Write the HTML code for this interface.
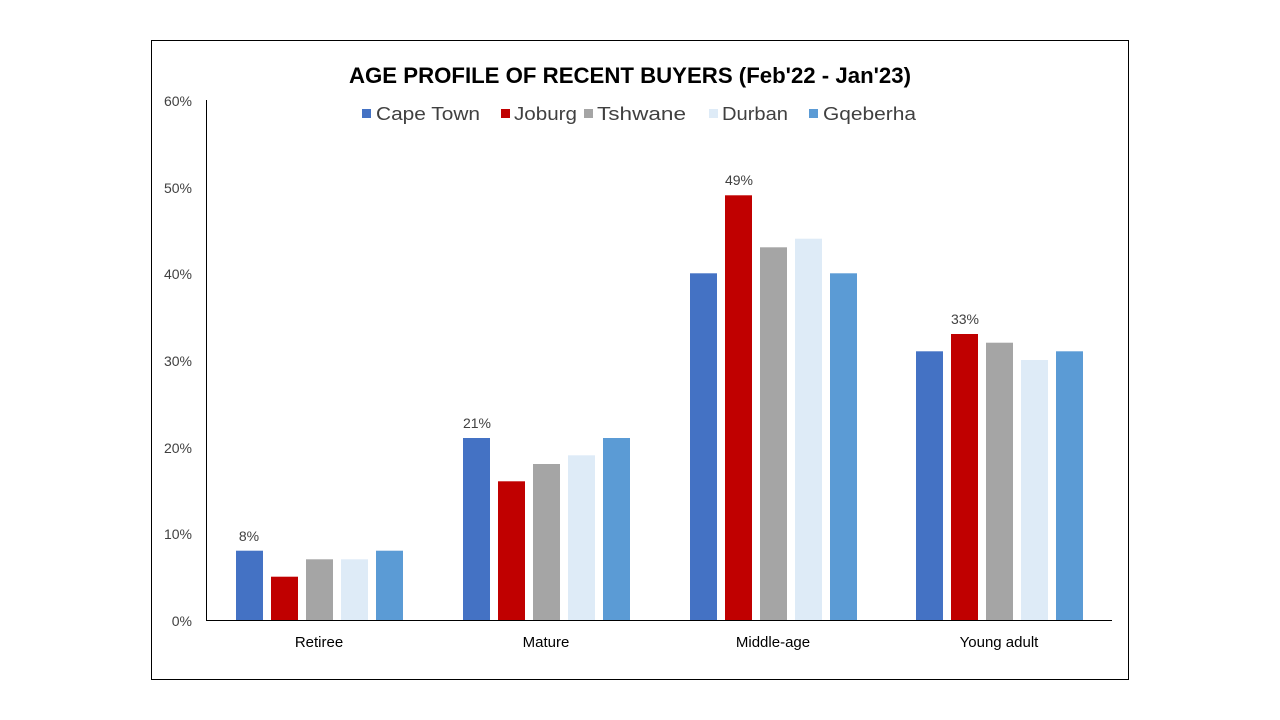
<!DOCTYPE html>
<html><head><meta charset="utf-8"><style>body{margin:0;background:#fff}svg{display:block}</style></head><body>
<svg width="1280" height="720" xmlns="http://www.w3.org/2000/svg" font-family="Liberation Sans, sans-serif">
<rect x="0" y="0" width="1280" height="720" fill="#fff"/>
<rect x="151.5" y="40.5" width="977" height="639" fill="none" stroke="#000" stroke-width="1"/>
<text x="349" y="83" font-size="22" font-weight="bold" textLength="562" lengthAdjust="spacingAndGlyphs" fill="#000">AGE PROFILE OF RECENT BUYERS (Feb'22 - Jan'23)</text>
<g font-size="18" fill="#404040">
<rect x="362" y="109" width="9" height="9" fill="#4472C4"/><text x="376" y="120" textLength="104" lengthAdjust="spacingAndGlyphs">Cape Town</text>
<rect x="501" y="109" width="9" height="9" fill="#C00000"/><text x="514" y="120" textLength="63" lengthAdjust="spacingAndGlyphs">Joburg</text>
<rect x="584" y="109" width="9" height="9" fill="#A5A5A5"/><text x="597" y="120" textLength="89" lengthAdjust="spacingAndGlyphs">Tshwane</text>
<rect x="709" y="109" width="9" height="9" fill="#DEEBF7"/><text x="722" y="120" textLength="66" lengthAdjust="spacingAndGlyphs">Durban</text>
<rect x="809" y="109" width="9" height="9" fill="#5B9BD5"/><text x="823" y="120" textLength="93" lengthAdjust="spacingAndGlyphs">Gqeberha</text>
</g>
<g font-size="14" fill="#404040" text-anchor="end">
<text x="192" y="626">0%</text><text x="192" y="539">10%</text><text x="192" y="453">20%</text><text x="192" y="366">30%</text><text x="192" y="279">40%</text><text x="192" y="193">50%</text><text x="192" y="106">60%</text>
</g>
<g>
<rect x="236" y="550.7" width="27" height="69.3" fill="#4472C4"/>
<rect x="271" y="576.7" width="27" height="43.3" fill="#C00000"/>
<rect x="306" y="559.3" width="27" height="60.7" fill="#A5A5A5"/>
<rect x="341" y="559.3" width="27" height="60.7" fill="#DEEBF7"/>
<rect x="376" y="550.7" width="27" height="69.3" fill="#5B9BD5"/>

<rect x="463" y="438" width="27" height="182" fill="#4472C4"/>
<rect x="498" y="481.3" width="27" height="138.7" fill="#C00000"/>
<rect x="533" y="464" width="27" height="156" fill="#A5A5A5"/>
<rect x="568" y="455.3" width="27" height="164.7" fill="#DEEBF7"/>
<rect x="603" y="438" width="27" height="182" fill="#5B9BD5"/>

<rect x="690" y="273.3" width="27" height="346.7" fill="#4472C4"/>
<rect x="725" y="195.3" width="27" height="424.7" fill="#C00000"/>
<rect x="760" y="247.3" width="27" height="372.7" fill="#A5A5A5"/>
<rect x="795" y="238.7" width="27" height="381.3" fill="#DEEBF7"/>
<rect x="830" y="273.3" width="27" height="346.7" fill="#5B9BD5"/>

<rect x="916" y="351.3" width="27" height="268.7" fill="#4472C4"/>
<rect x="951" y="334" width="27" height="286" fill="#C00000"/>
<rect x="986" y="342.7" width="27" height="277.3" fill="#A5A5A5"/>
<rect x="1021" y="360" width="27" height="260" fill="#DEEBF7"/>
<rect x="1056" y="351.3" width="27" height="268.7" fill="#5B9BD5"/>
</g>
<line x1="206.5" y1="100" x2="206.5" y2="620" stroke="#000"/>
<line x1="206" y1="620.5" x2="1112" y2="620.5" stroke="#000"/>
<g font-size="15" fill="#000" text-anchor="middle">
<text x="319" y="647">Retiree</text><text x="546" y="647">Mature</text><text x="773" y="647">Middle-age</text><text x="999" y="647">Young adult</text>
</g>
<g font-size="14" fill="#404040" text-anchor="middle">
<text x="249" y="541">8%</text><text x="477" y="428">21%</text><text x="739" y="185">49%</text><text x="965" y="324">33%</text>
</g>
</svg>
</body></html>
